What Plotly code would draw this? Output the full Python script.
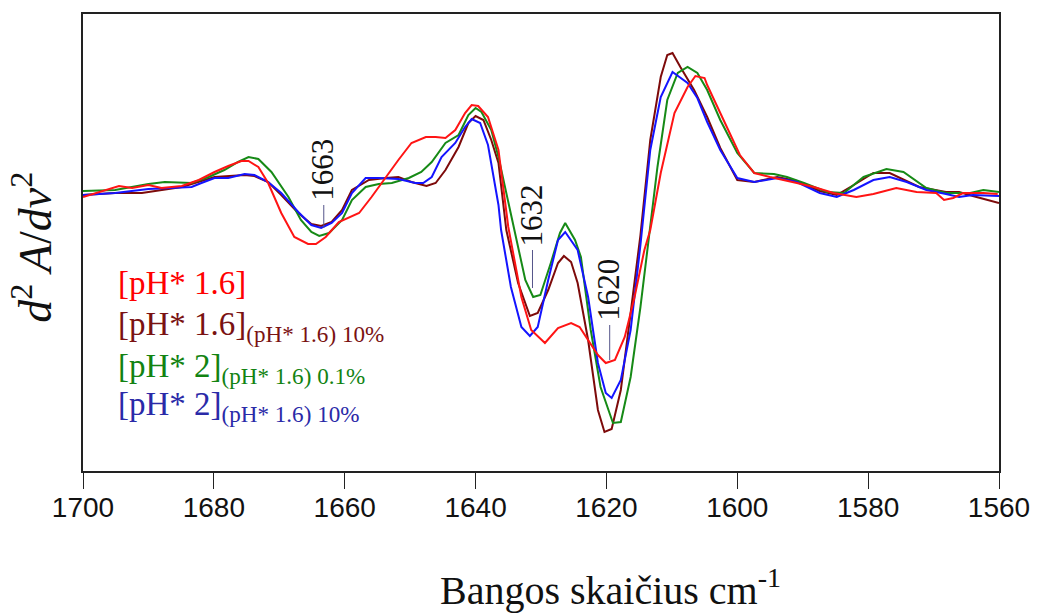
import plotly.graph_objects as go

# ---- data (wavenumber, cm-1 ; second-derivative, arbitrary units) ----
red_x = [1700, 1697.6, 1694.5, 1692.5, 1690.0, 1688.0, 1684.9, 1682.3, 1679.9, 1677.8, 1675.8, 1674.7,
         1673.2, 1671.7, 1669.7, 1667.7, 1665.6, 1664.4, 1662.9, 1660.9, 1659.4, 1657.8, 1655.9, 1653.7,
         1651.8, 1649.8, 1647.6, 1646.1, 1644.6, 1643.1, 1641.6, 1640.6, 1639.6, 1638.1, 1636.5, 1635.0,
         1633.0, 1631.5, 1629.4, 1627.4, 1625.4, 1624.1, 1622.8, 1621.3, 1620.1, 1618.7, 1617.2, 1615.7,
         1614.2, 1613.3, 1611.7, 1609.6, 1607.6, 1606.4, 1605.0, 1604.6, 1602.6, 1599.6, 1597.4, 1595.0,
         1590.9, 1588.3, 1585.3, 1581.8, 1579.2, 1575.7, 1572.6, 1569.6, 1568.4, 1567.0, 1565.5, 1562.4, 1560.2]
red_y = [-0.07, -0.02, 0.04, 0.02, 0.05, 0.02, 0.04, 0.10, 0.18, 0.24, 0.29, 0.29,
         0.23, 0.07, -0.23, -0.47, -0.54, -0.54, -0.47, -0.32, -0.28, -0.23, -0.07, 0.13,
         0.30, 0.47, 0.53, 0.53, 0.52, 0.60, 0.77, 0.85, 0.84, 0.73, 0.40, -0.37,
         -1.07, -1.40, -1.53, -1.38, -1.33, -1.37, -1.50, -1.65, -1.73, -1.70, -1.47, -1.07,
         -0.60, -0.40, 0.17, 0.77, 1.03, 1.14, 1.12, 1.05, 0.77, 0.35, 0.17, 0.13,
         0.07, 0.03, -0.03, -0.07, -0.04, 0.02, -0.02, -0.03, -0.10, -0.08, -0.03, -0.03, -0.04]

brown_x = [1700, 1695.1, 1691.0, 1684.9, 1679.9, 1675.3, 1673.8, 1671.7, 1669.7, 1667.1, 1665.1, 1663.6,
           1662.0, 1660.4, 1658.9, 1656.3, 1653.7, 1651.8, 1649.8, 1647.5, 1646.1, 1644.6, 1642.6, 1641.1,
           1640.0, 1638.8, 1637.6, 1636.5, 1635.3, 1633.5, 1631.7, 1630.5, 1628.9, 1627.4, 1626.5, 1625.4,
           1624.4, 1622.8, 1621.3, 1620.3, 1619.2, 1617.8, 1616.3, 1614.8, 1613.3, 1611.7, 1610.7, 1609.9,
           1608.7, 1606.6, 1604.6, 1602.6, 1600.0, 1597.4, 1593.9, 1590.9, 1587.4, 1584.8, 1582.2, 1579.2,
           1576.7, 1572.2, 1568.1, 1566.1, 1564.0, 1560.0]
brown_y = [-0.05, -0.03, -0.03, 0.03, 0.13, 0.15, 0.14, 0.08, -0.05, -0.23, -0.34, -0.36,
           -0.32, -0.20, 0.00, 0.10, 0.12, 0.13, 0.08, 0.04, 0.07, 0.20, 0.43, 0.67,
           0.74, 0.70, 0.50, 0.27, -0.40, -0.93, -1.26, -1.23, -1.00, -0.73, -0.66, -0.72,
           -0.93, -1.50, -2.20, -2.42, -2.39, -2.00, -1.23, -0.45, 0.50, 1.13, 1.35, 1.37,
           1.23, 1.00, 0.73, 0.42, 0.10, 0.08, 0.13, 0.09, -0.01, -0.05, 0.05, 0.17,
           0.17, 0.03, -0.02, -0.02, -0.06, -0.13]

green_x = [1700, 1695.1, 1690.0, 1687.5, 1683.4, 1680.8, 1678.4, 1676.3, 1674.7, 1673.2, 1671.2, 1668.6,
           1666.7, 1665.1, 1663.9, 1662.4, 1660.4, 1658.9, 1656.8, 1654.8, 1652.8, 1650.2, 1648.3, 1646.7,
           1644.6, 1642.6, 1641.1, 1640.0, 1639.1, 1637.6, 1636.5, 1634.0, 1632.4, 1631.2, 1630.1, 1628.5,
           1627.1, 1626.3, 1624.8, 1623.9, 1622.4, 1620.9, 1619.0, 1617.8, 1616.3, 1614.8, 1613.4, 1612.2,
           1610.7, 1609.1, 1607.6, 1606.1, 1604.6, 1602.6, 1600.0, 1597.4, 1594.4, 1592.4, 1589.8, 1586.3,
           1583.7, 1580.7, 1577.2, 1574.6, 1571.1, 1568.1, 1564.4, 1562.4, 1560.0]
green_y = [-0.01, 0.00, 0.06, 0.08, 0.07, 0.13, 0.20, 0.28, 0.33, 0.31, 0.18, -0.07,
           -0.30, -0.42, -0.46, -0.43, -0.30, -0.10, 0.03, 0.06, 0.07, 0.12, 0.18, 0.28,
           0.47, 0.55, 0.75, 0.82, 0.78, 0.60, 0.33, -0.40, -0.90, -1.07, -1.05, -0.73,
           -0.43, -0.33, -0.50, -0.67, -1.40, -1.97, -2.33, -2.32, -1.87, -1.17, -0.40, 0.23,
           0.90, 1.17, 1.23, 1.17, 1.00, 0.70, 0.37, 0.17, 0.16, 0.13, 0.07, -0.02,
           -0.03, 0.13, 0.21, 0.18, 0.02, -0.03, -0.03, 0.00, -0.02]

blue_x = [1700, 1695.1, 1690.0, 1683.4, 1681.9, 1679.9, 1677.8, 1675.3, 1673.8, 1671.7, 1669.7, 1667.1,
          1665.1, 1663.6, 1662.0, 1660.4, 1658.9, 1656.8, 1654.8, 1651.8, 1649.2, 1648.0, 1646.7, 1645.2,
          1643.1, 1641.6, 1640.6, 1639.3, 1638.1, 1636.5, 1636.1, 1634.6, 1633.0, 1631.7, 1630.5, 1628.9,
          1627.4, 1626.3, 1624.4, 1622.8, 1621.3, 1620.1, 1619.2, 1617.8, 1616.3, 1614.8, 1613.3, 1611.7,
          1609.9, 1607.6, 1606.1, 1604.6, 1602.6, 1600.0, 1597.4, 1593.9, 1590.9, 1587.4, 1584.8, 1582.2,
          1579.2, 1576.7, 1574.1, 1571.1, 1568.1, 1566.1, 1564.0, 1560.0]
blue_y = [-0.05, -0.03, 0.01, 0.03, 0.07, 0.12, 0.12, 0.16, 0.15, 0.08, -0.03, -0.22,
          -0.35, -0.38, -0.33, -0.23, -0.03, 0.12, 0.12, 0.11, 0.07, 0.07, 0.13, 0.33,
          0.47, 0.63, 0.71, 0.67, 0.45, -0.15, -0.40, -0.97, -1.37, -1.46, -1.37, -0.90,
          -0.50, -0.42, -0.60, -1.07, -1.73, -2.03, -2.08, -1.90, -1.40, -0.55, 0.40, 0.93,
          1.18, 1.07, 0.92, 0.68, 0.40, 0.12, 0.08, 0.12, 0.08, -0.03, -0.07, 0.00,
          0.10, 0.13, 0.08, 0.00, -0.04, -0.07, -0.05, -0.06]

x_ticks = [1700, 1680, 1660, 1640, 1620, 1600, 1580, 1560]

legend_labels = [
    "[pH* 1.6]",
    "[pH* 1.6]<sub>(pH* 1.6) 10%</sub>",
    "[pH* 2]<sub>(pH* 1.6) 0.1%</sub>",
    "[pH* 2]<sub>(pH* 1.6) 10%</sub>",
]
legend_colors = ["#ff0000", "#7a1212", "#128312", "#2a2aa8"]

peak_labels = ["1663", "1632", "1620"]
peak_x = [1663.2, 1631.3, 1619.5]

line_colors = {"red": "#ff1414", "brown": "#7d0a0a", "green": "#168a16", "blue": "#1414ff"}

fig = go.Figure()
for xs, ys, c in [(brown_x, brown_y, "brown"), (green_x, green_y, "green"),
                  (blue_x, blue_y, "blue"), (red_x, red_y, "red")]:
    fig.add_trace(go.Scatter(x=xs, y=ys, mode="lines",
                             line=dict(color=line_colors[c], width=2), showlegend=False,
                             hoverinfo="skip"))

serif = "Liberation Serif, Times New Roman, serif"

# peak marker lines and labels
peak_line_y = [(-0.15, -0.38), (-0.60, -0.98), (-1.35, -1.70)]
peak_text_y = [0.20, -0.26, -1.00]
for lab, px, (y0, y1), ty in zip(peak_labels, peak_x, peak_line_y, peak_text_y):
    fig.add_shape(type="line", x0=px, x1=px, y0=y0, y1=y1, xref="x", yref="y",
                  line=dict(color="#55558a", width=1))
    fig.add_annotation(x=px + 0.3, y=ty, xref="x", yref="y", text=lab, textangle=-90,
                       showarrow=False, xanchor="center", yanchor="middle",
                       font=dict(family=serif, size=31, color="#111111"))

# legend-like text block
legend_y = [0.368, 0.268, 0.176, 0.092]
for lab, col, ly in zip(legend_labels, legend_colors, legend_y):
    fig.add_annotation(x=0.036, y=ly, xref="paper", yref="paper", text=lab,
                       showarrow=False, xanchor="left", yanchor="bottom",
                       font=dict(family=serif, size=33, color=col))

# axis titles
fig.add_annotation(x=0.576, y=-0.254, xref="paper", yref="paper",
                   text="Bangos skaičius cm<sup>-1</sup>", showarrow=False,
                   xanchor="center", yanchor="middle",
                   font=dict(family=serif, size=40, color="#111111"))
fig.add_annotation(x=-0.056, y=0.49, xref="paper", yref="paper", textangle=-90,
                   text="<i>d</i><sup>2</sup> <i>A</i>/<i>dv</i><sup>2</sup>", showarrow=False,
                   xanchor="center", yanchor="middle",
                   font=dict(family=serif, size=46, color="#111111"))

fig.update_layout(
    width=1042, height=613,
    margin=dict(l=83, r=36, t=14, b=142),
    paper_bgcolor="white", plot_bgcolor="white",
    xaxis=dict(range=[1700, 1560], tickvals=x_ticks, ticks="outside", ticklen=16,
               tickcolor="#222222", tickwidth=1, showgrid=False, zeroline=False,
               showline=True, mirror=True, linecolor="#222222", linewidth=2,
               ticklabelstandoff=-6,
               tickfont=dict(family="Liberation Sans, Arial, sans-serif", size=28, color="#111111")),
    yaxis=dict(range=[-2.81, 1.76], showticklabels=False, ticks="", showgrid=False,
               zeroline=False, showline=True, mirror=True, linecolor="#222222", linewidth=2),
)

fig.write_html("out.html")
